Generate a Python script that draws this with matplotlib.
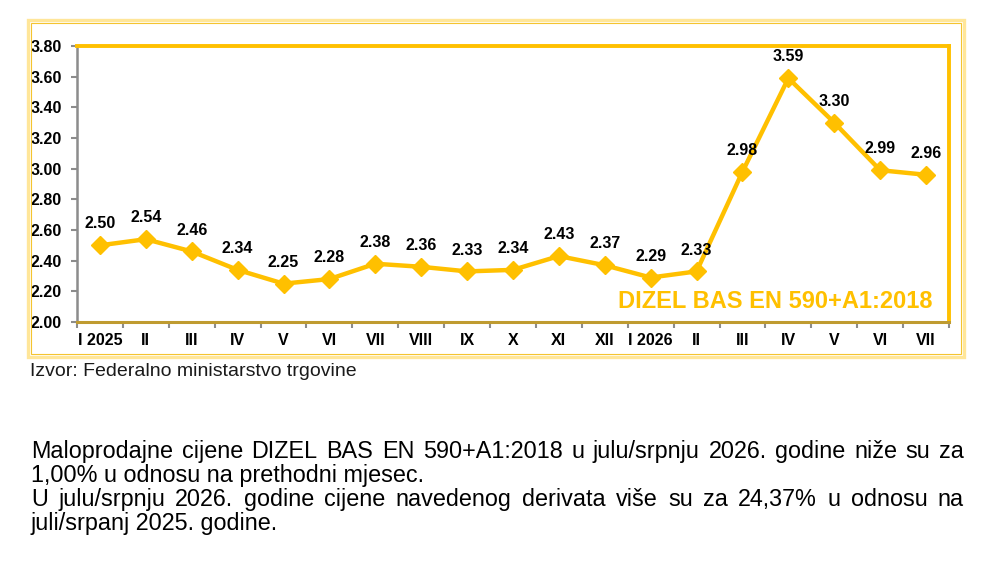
import matplotlib
matplotlib.use("Agg")
import matplotlib.pyplot as plt
from matplotlib.patches import Rectangle
from matplotlib.ticker import FixedLocator, NullFormatter

plt.rcParams['font.family'] = ['Liberation Sans', 'DejaVu Sans']

categories = ["I 2025", "II", "III", "IV", "V", "VI", "VII", "VIII", "IX", "X",
              "XI", "XII", "I 2026", "II", "III", "IV", "V", "VI", "VII"]
prices = [2.50, 2.54, 2.46, 2.34, 2.25, 2.28, 2.38, 2.36, 2.33, 2.34,
          2.43, 2.37, 2.29, 2.33, 2.98, 3.59, 3.30, 2.99, 2.96]
y_ticks = [2.00, 2.20, 2.40, 2.60, 2.80, 3.00, 3.20, 3.40, 3.60, 3.80]
series_name = "DIZEL BAS EN 590+A1:2018"
source_text = "Izvor: Federalno ministarstvo trgovine"
paragraph_lines = [
    ("Maloprodajne cijene DIZEL BAS EN 590+A1:2018 u julu/srpnju 2026. godine niže su za", True),
    ("1,00% u odnosu na prethodni mjesec.", False),
    ("U julu/srpnju 2026. godine cijene navedenog derivata više su za 24,37% u odnosu na", True),
    ("juli/srpanj 2025. godine.", False),
]

YELLOW = "#FFC000"
W, H = 991, 565
fig = plt.figure(figsize=(W / 100, H / 100), dpi=100)

def fx(px):
    return px / W

def fy(py):
    return 1 - py / H

# outer frame (double light-yellow line)
fig.patches.append(Rectangle((fx(28), fy(357)), fx(964) - fx(28), fy(20) - fy(357),
                             transform=fig.transFigure, fill=False,
                             edgecolor="#FFE699", linewidth=2.4, zorder=0))
fig.patches.append(Rectangle((fx(31), fy(354)), fx(961) - fx(31), fy(23) - fy(354),
                             transform=fig.transFigure, fill=False,
                             edgecolor="#F4C430", linewidth=0.8, zorder=0))

ax = fig.add_axes([fx(77), fy(322), fx(949) - fx(77), fy(46) - fy(322)])
x = list(range(len(categories)))
ax.plot(x, prices, color=YELLOW, linewidth=3.2, marker="D", markersize=9,
        markerfacecolor=YELLOW, markeredgecolor=YELLOW, zorder=3, clip_on=False)
for xi, v in zip(x, prices):
    ax.annotate(f"{v:.2f}", (xi, v), xytext=(0, 10), textcoords="offset points",
                ha="center", va="bottom", fontsize=11.5, fontweight="bold", color="black")

ax.set_xlim(-0.5, len(categories) - 0.5)
ax.set_ylim(2.0, 3.8)
ax.set_yticks(y_ticks)
ax.set_yticklabels([f"{t:.2f}" for t in y_ticks], fontsize=11.5, fontweight="bold")
ax.set_xticks(x)
ax.set_xticklabels(categories, fontsize=11.5, fontweight="bold")
ax.xaxis.set_minor_locator(FixedLocator([i - 0.5 for i in range(len(categories) + 1)]))
ax.xaxis.set_minor_formatter(NullFormatter())
ax.tick_params(axis="x", which="major", length=0, pad=8)
ax.tick_params(axis="x", which="minor", length=4, width=1.5, color="#8C8C8C", direction="out")
ax.tick_params(axis="y", which="major", length=4, width=1.5, color="#8C8C8C", pad=7)

ax.spines["left"].set_color("#8C8C8C")
ax.spines["left"].set_linewidth(1.8)
ax.spines["bottom"].set_color("#BF9B30")
ax.spines["bottom"].set_linewidth(2.2)
ax.spines["top"].set_color(YELLOW)
ax.spines["top"].set_linewidth(2.8)
ax.spines["right"].set_color(YELLOW)
ax.spines["right"].set_linewidth(2.8)

ax.text(0.981, 0.075, series_name, transform=ax.transAxes, ha="right", va="center",
        fontsize=17, fontweight="bold", color=YELLOW)

fig.text(fx(30), fy(372), source_text, ha="left", va="center", fontsize=14, color="#1a1a1a")

# justified paragraph
renderer = fig.canvas.get_renderer()
left_px, right_px = 31, 964
baselines = [458, 482, 506, 530]
PFS = 16.8
for (line, justify), base in zip(paragraph_lines, baselines):
    if not justify:
        fig.text(fx(left_px), fy(base), line, ha="left", va="baseline",
                 fontsize=PFS, color="black")
        continue
    words = line.split(" ")
    texts = [fig.text(0, fy(base), w, ha="left", va="baseline", fontsize=PFS, color="black")
             for w in words]
    widths = [t.get_window_extent(renderer).width for t in texts]
    gap = (right_px - left_px - sum(widths)) / (len(words) - 1)
    cur = left_px
    for t, w in zip(texts, widths):
        t.set_x(fx(cur))
        cur += w + gap

fig.savefig("out.png", dpi=100)
